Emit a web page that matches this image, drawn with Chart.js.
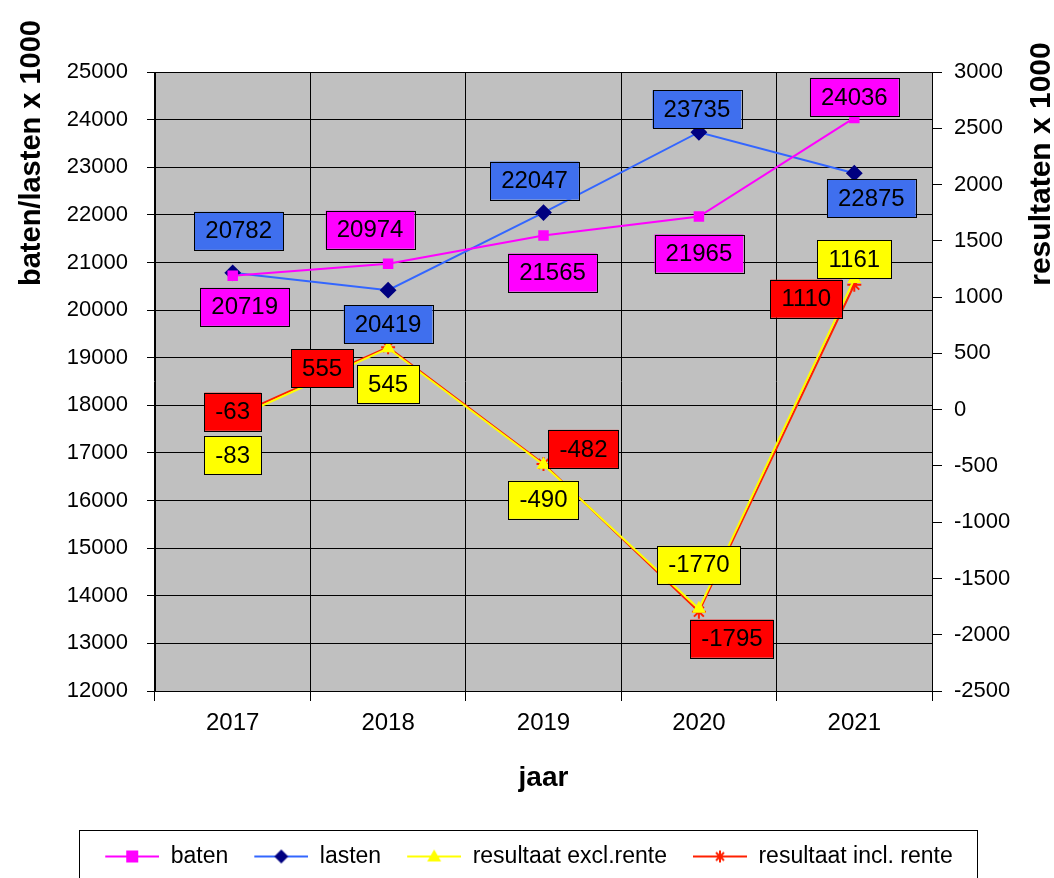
<!DOCTYPE html>
<html>
<head>
<meta charset="utf-8">
<script src="https://cdn.jsdelivr.net/npm/chart.js@4/dist/chart.umd.min.js"></script>
<style>
  html, body { margin: 0; padding: 0; background: #fff; }
  #wrap { width: 1054px; height: 878px; }
</style>
</head>
<body>
<div id="wrap"><canvas id="chart" width="1054" height="878"></canvas></div>
<script>
// jaren en reeksen (waarden x 1000)
const jaren = ["2017", "2018", "2019", "2020", "2021"];
const baten = [20719, 20974, 21565, 21965, 24036];
const lasten = [20782, 20419, 22047, 23735, 22875];
const resultaatExcl = [-83, 545, -490, -1770, 1161];
const resultaatIncl = [-63, 555, -482, -1795, 1110];

const FONT = "'Liberation Sans', Arial, sans-serif";

// legend-icoontje: lijntje met marker in het midden (links wat lucht)
function legendIcon(lineColor, markerColor, style) {
  const c = document.createElement("canvas");
  c.width = 58; c.height = 20;
  const g = c.getContext("2d");
  g.strokeStyle = lineColor; g.lineWidth = 2;
  g.beginPath(); g.moveTo(4, 10); g.lineTo(58, 10); g.stroke();
  g.fillStyle = markerColor; g.strokeStyle = markerColor;
  const m = 31;
  if (style === "rect") g.fillRect(m - 6, 4, 12, 12);
  if (style === "rectRot") { g.beginPath(); g.moveTo(m, 3); g.lineTo(m + 7, 10); g.lineTo(m, 17); g.lineTo(m - 7, 10); g.closePath(); g.fill(); }
  if (style === "triangle") { g.beginPath(); g.moveTo(m, 3); g.lineTo(m + 7, 15); g.lineTo(m - 7, 15); g.closePath(); g.fill(); }
  if (style === "star") {
    g.beginPath();
    g.moveTo(m - 6, 10); g.lineTo(m + 6, 10); g.moveTo(m, 4); g.lineTo(m, 16);
    g.moveTo(m - 4, 6); g.lineTo(m + 4, 14); g.moveTo(m + 4, 6); g.lineTo(m - 4, 14);
    g.stroke();
  }
  return c;
}

const icons = [
  legendIcon("#ff00ff", "#ff00ff", "rect"),
  legendIcon("#3366ff", "#000080", "rectRot"),
  legendIcon("#ffff00", "#ffff00", "triangle"),
  legendIcon("#ff2000", "#ff2000", "star")
];

// grijze plotachtergrond
const plotBg = {
  id: "plotBg",
  beforeDraw(chart) {
    const a = chart.chartArea, ctx = chart.ctx;
    ctx.save();
    ctx.fillStyle = "#c0c0c0";
    ctx.fillRect(a.left, a.top, a.right - a.left, a.bottom - a.top);
    ctx.restore();
  }
};

// gekleurde waardelabels met kader
const valueBoxes = {
  id: "valueBoxes",
  afterDatasetsDraw(chart, args, opts) {
    const ctx = chart.ctx;
    ctx.save();
    ctx.font = "24px " + FONT;
    ctx.textAlign = "center";
    ctx.textBaseline = "middle";
    chart.data.datasets.forEach((ds, i) => {
      const meta = chart.getDatasetMeta(i);
      const offs = opts.offsets[i];
      meta.data.forEach((pt, j) => {
        const txt = String(ds.data[j]);
        const w = ctx.measureText(txt).width + 22, h = 38;
        const cx = pt.x + offs[j][0], cy = pt.y + offs[j][1];
        ctx.fillStyle = opts.fills[i];
        ctx.fillRect(cx - w / 2, cy - h / 2, w, h);
        ctx.strokeStyle = "#000"; ctx.lineWidth = 1;
        ctx.strokeRect(Math.round(cx - w / 2) + 0.5, Math.round(cy - h / 2) + 0.5, Math.round(w), h);
        ctx.fillStyle = "#000";
        ctx.fillText(txt, cx, cy + 1);
      });
    });
    ctx.restore();
  }
};

// kader om de legenda + astitels links en rechts (lezen van onder naar boven)
const extras = {
  id: "extras",
  afterDraw(chart) {
    const ctx = chart.ctx;
    const lg = chart.legend;
    ctx.save();
    if (lg && lg.legendHitBoxes && lg.legendHitBoxes.length) {
      const hb = lg.legendHitBoxes;
      const l = hb[0].left - 22, r = hb[hb.length - 1].left + hb[hb.length - 1].width + 24;
      ctx.strokeStyle = "#000"; ctx.lineWidth = 1;
      ctx.strokeRect(Math.round(l) + 0.5, 830.5, Math.round(r - l), 60);
    }
    ctx.fillStyle = "#000";
    ctx.textAlign = "center";
    ctx.textBaseline = "middle";
    ctx.save();
    ctx.translate(32, 153);
    ctx.rotate(-Math.PI / 2);
    ctx.font = "bold 29px " + FONT;
    ctx.fillText("baten/lasten x 1000", 0, 0);
    ctx.restore();
    ctx.translate(1042, 164);
    ctx.rotate(-Math.PI / 2);
    ctx.font = "bold 30px " + FONT;
    ctx.fillText("resultaten x 1000", 0, 0);
    ctx.restore();
  }
};

new Chart(document.getElementById("chart"), {
  type: "line",
  data: {
    labels: jaren,
    datasets: [
      { label: "baten", data: baten, yAxisID: "y", borderColor: "#ff00ff", backgroundColor: "#ff00ff",
        pointStyle: "rect", pointRadius: 6, borderWidth: 2 },
      { label: "lasten", data: lasten, yAxisID: "y", borderColor: "#3366ff", backgroundColor: "#000080",
        pointBorderColor: "#000080", pointStyle: "rectRot", pointRadius: 7, borderWidth: 2 },
      { label: "resultaat excl.rente", data: resultaatExcl, yAxisID: "y1", borderColor: "#ffff00", backgroundColor: "#ffff00",
        pointStyle: "triangle", pointRadius: 6, borderWidth: 2 },
      { label: "resultaat incl. rente", data: resultaatIncl, yAxisID: "y1", borderColor: "#ff2000", backgroundColor: "#ff2000",
        pointBorderColor: "#ff2000", pointStyle: "star", pointRadius: 7, borderWidth: 2 }
    ]
  },
  options: {
    responsive: false,
    animation: false,
    layout: { padding: { top: 72, left: 0, right: 0, bottom: 0 } },
    scales: {
      x: {
        offset: true,
        grid: { offset: true, color: "#000", tickLength: 10, lineWidth: 1 },
        border: { color: "#000" },
        ticks: { color: "#000", font: { family: FONT, size: 24 }, padding: 8 },
        title: { display: true, text: "jaar", color: "#000", font: { family: FONT, size: 28, weight: "bold" },
          padding: { top: 18, bottom: 28 } },
        afterFit(s) { s.height = 132; }
      },
      y: {
        position: "left",
        min: 12000, max: 25000,
        grid: { color: "#000", tickLength: 8 },
        border: { color: "#000" },
        ticks: { stepSize: 1000, color: "#000", font: { family: FONT, size: 22 }, padding: 19,
          callback: v => String(v) },
        afterFit(s) { s.width = 155; }
      },
      y1: {
        position: "right",
        min: -2500, max: 3000,
        grid: { drawOnChartArea: false, color: "#000", tickLength: 10 },
        border: { color: "#000" },
        ticks: { stepSize: 500, color: "#000", font: { family: FONT, size: 22 }, padding: 12,
          callback: v => String(v) },
        afterFit(s) { s.width = 122; }
      }
    },
    plugins: {
      legend: {
        position: "bottom",
        labels: {
          usePointStyle: true,
          pointStyleWidth: 58,
          color: "#000",
          font: { family: FONT, size: 23 },
          padding: 22,
          generateLabels(chart) {
            return Chart.defaults.plugins.legend.labels.generateLabels(chart).map((it, i) => {
              it.pointStyle = icons[i];
              return it;
            });
          }
        }
      },
      tooltip: { enabled: false },
      valueBoxes: {
        fills: ["#ff00ff", "#3f6fee", "#ffff00", "#ff0000"],
        offsets: [
          [[12, 31], [-18, -34], [9, 37], [0, 37], [0, -21]],
          [[6, -42], [0, 34], [-9, -32], [-2, -23], [17, 25]],
          [[0, 36], [0, 36], [0, 35], [0, -44], [0, -20]],
          [[0, -5], [-66, 21], [40, -15], [33, 27], [-48, 14]]
        ]
      }
    }
  },
  plugins: [plotBg, valueBoxes, extras]
});
</script>
</body>
</html>
